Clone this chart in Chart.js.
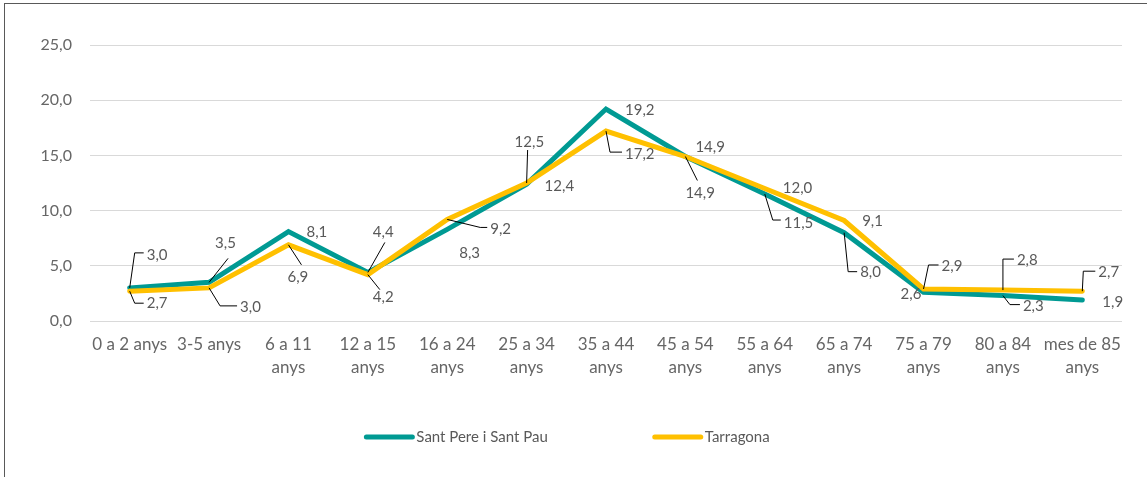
<!DOCTYPE html>
<html lang="ca">
<head>
    <meta charset="UTF-8">
    <title>Població per edats</title>
    <script src="https://cdn.jsdelivr.net/npm/chart.js"></script>
    <style>
        body { margin: 0; background: #fff; overflow: hidden; }
        #frame {
            position: absolute; left: 4px; top: 3px;
            width: 2000px; height: 2000px;
            border-top: 1.5px solid #595959; border-left: 1.5px solid #595959;
        }
        #chart { position: absolute; left: 0; top: 0; }
    </style>
</head>
<body>
    <div id="frame"></div>
    <canvas id="chart" width="1147" height="477"></canvas>

    <script>
        // categories and values
        const categories = [
            '0 a 2 anys', '3-5 anys', ['6 a 11', 'anys'], ['12 a 15', 'anys'], ['16 a 24', 'anys'],
            ['25 a 34', 'anys'], ['35 a 44', 'anys'], ['45 a 54', 'anys'], ['55 a 64', 'anys'],
            ['65 a 74', 'anys'], ['75 a 79', 'anys'], ['80 a 84', 'anys'], ['mes de 85', 'anys']
        ];
        const santPere = [3.0, 3.5, 8.1, 4.4, 8.3, 12.4, 19.2, 14.9, 11.5, 8.0, 2.6, 2.3, 1.9];
        const tarragona = [2.7, 3.0, 6.9, 4.2, 9.2, 12.5, 17.2, 14.9, 12.0, 9.1, 2.9, 2.8, 2.7];
        const yTicks = [0, 5, 10, 15, 20, 25];

        // label placement: [dx, dy, kneeX, kneeY, leader] (0 none, 1 straight, 2 elbow)
        const santPereLabelPos = [
            [17, -33, 5, -35, 2], [6, -39, 19, -24, 1], [18, 1, 0, 0, 0], [5, -40, 17, -30, 1],
            [12, 24, 0, 0, 0], [18, 2, 0, 0, 0], [19, 1, 0, 0, 0], [0, 37, 12, 24, 1],
            [19, 29, 8, 26, 2], [16, 39, 4, 39, 2], [-23, 2, 0, 0, 0], [20, 11, 7, 9, 2],
            [20, 2, 0, 0, 0]
        ];
        const tarragonaLabelPos = [
            [17, 12, 5, 12, 2], [31, 19, 11, 18, 2], [-1, 32, 13, 20, 1], [5, 23, 12, 15, 1],
            [43, 10, 33, 8, 2], [-12, -41, 1, -33, 1], [19, 23, 4, 21, 2], [10, -9, 0, 0, 0],
            [18, 0, 0, 0, 0], [18, 1, 0, 0, 0], [18, -23, 5, -24, 2], [14, -30, 0, -31, 2],
            [16, -19, 1, -20, 2]
        ];

        const TEXT = '#595959';
        const FONT = 'Lato, "Open Sans", sans-serif';

        const fmt = v => v.toFixed(1).replace('.', ',');

        const labelPlugin = {
            id: 'pointLabels',
            afterDatasetsDraw(chart) {
                const ctx = chart.ctx;
                ctx.save();
                ctx.font = '15px ' + FONT;
                ctx.textAlign = 'left';
                ctx.textBaseline = 'middle';
                chart.data.datasets.forEach((ds, di) => {
                    const meta = chart.getDatasetMeta(di);
                    meta.data.forEach((pt, i) => {
                        const [dx, dy, kx, ky, mode] = ds.labelPos[i];
                        const x = pt.x, y = pt.y;
                        if (mode) {
                            ctx.strokeStyle = '#000';
                            ctx.lineWidth = 1;
                            ctx.beginPath();
                            ctx.moveTo(x, y);
                            ctx.lineTo(x + kx, y + ky);
                            if (mode === 2) ctx.lineTo(x + dx - 3, y + ky);
                            ctx.stroke();
                        }
                        ctx.fillStyle = TEXT;
                        ctx.fillText(fmt(ds.data[i]), x + dx, y + dy);
                    });
                });
                ctx.restore();
            },
            afterDraw(chart) {
                // legend drawn by hand, Excel style spacing
                const ctx = chart.ctx;
                ctx.save();
                ctx.font = '15px ' + FONT;
                ctx.textBaseline = 'middle';
                const lineLen = 50, gap = 105, y = 437;
                const items = chart.data.datasets.map(ds => ({
                    text: ds.label, color: ds.borderColor,
                    w: lineLen + 2 + ctx.measureText(ds.label).width
                }));
                const total = items.reduce((s, it) => s + it.w, 0) + gap * (items.length - 1);
                let x = 567 - total / 2;
                items.forEach(it => {
                    ctx.strokeStyle = it.color;
                    ctx.lineWidth = 5;
                    ctx.lineCap = 'round';
                    ctx.beginPath();
                    ctx.moveTo(x + 2, y);
                    ctx.lineTo(x + lineLen - 2, y);
                    ctx.stroke();
                    ctx.fillStyle = TEXT;
                    ctx.fillText(it.text, x + lineLen + 2, y);
                    x += it.w + gap;
                });
                ctx.restore();
            }
        };

        new Chart(document.getElementById('chart'), {
            type: 'line',
            data: {
                labels: categories,
                datasets: [{
                    label: 'Sant Pere i Sant Pau',
                    data: santPere,
                    labelPos: santPereLabelPos,
                    borderColor: '#009A93',
                    borderWidth: 5,
                    order: 1
                }, {
                    label: 'Tarragona',
                    data: tarragona,
                    labelPos: tarragonaLabelPos,
                    borderColor: '#FFC000',
                    borderWidth: 5,
                    order: 0
                }]
            },
            options: {
                responsive: false,
                animation: false,
                layout: { padding: { left: 0, top: 45, right: 25, bottom: 0 } },
                elements: {
                    point: { radius: 0 },
                    line: { tension: 0, borderCapStyle: 'round', borderJoinStyle: 'miter', fill: false }
                },
                plugins: { legend: { display: false }, tooltip: { enabled: false } },
                scales: {
                    x: {
                        offset: true,
                        grid: { display: false, drawTicks: false },
                        border: { display: false },
                        ticks: {
                            color: '#666', font: { family: FONT, size: 17, lineHeight: 1.35 },
                            padding: 12, maxRotation: 0, autoSkip: false
                        },
                        afterFit: s => { s.height = 156; }
                    },
                    y: {
                        min: 0, max: 25,
                        afterBuildTicks: s => { s.ticks = yTicks.map(v => ({ value: v })); },
                        grid: { color: '#D9D9D9', lineWidth: 1, drawTicks: false },
                        border: { display: false },
                        ticks: { color: '#666', font: { family: FONT, size: 16 }, padding: 18, callback: v => fmt(v) },
                        afterFit: s => { s.width = 90; }
                    }
                }
            },
            plugins: [labelPlugin]
        });
    </script>
</body>
</html>
